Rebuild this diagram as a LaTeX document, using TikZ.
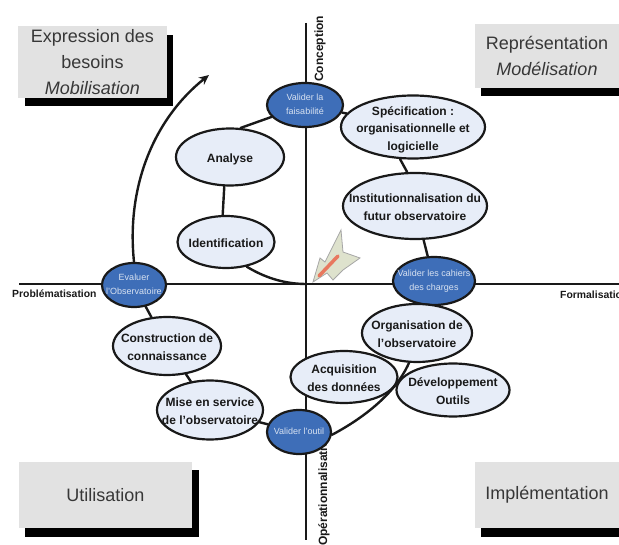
\documentclass[tikz,border=0pt]{standalone}
\usepackage{fontspec}
\setmainfont{Liberation Sans}
\usetikzlibrary{shapes.geometric,arrows.meta}
\definecolor{boxgray}{RGB}{226,226,226}
\definecolor{paleblue}{RGB}{231,237,248}
\definecolor{midblue}{RGB}{62,110,184}
\definecolor{ink}{RGB}{25,25,25}
\definecolor{heading}{RGB}{55,55,55}
\definecolor{markerfill}{RGB}{222,226,205}
\definecolor{markerstripe}{RGB}{232,120,95}
\newcommand{\lbl}[1]{\makebox[0pt]{\smash{\raisebox{-0.25em}{\begin{tabular}{@{}c@{}}#1\end{tabular}}}}}
\newcommand{\lbs}[1]{\makebox[0pt]{\smash{\raisebox{-0.42em}{\begin{tabular}{@{}c@{}}#1\end{tabular}}}}}
\tikzset{
  spiral/.style={line width=2.4pt,draw=ink,line cap=round},
  axis/.style={line width=1.8pt,draw=ink},
  stepell/.style={ellipse,draw=ink,line width=2.2pt,fill=paleblue,inner sep=0pt,
    font=\bfseries\fontsize{12}{17.5}\selectfont,text=ink},
  gate/.style={ellipse,draw=ink,line width=2.2pt,fill=midblue,inner sep=0pt,
    font=\fontsize{9}{14}\selectfont,text=white!80!midblue},
  phase/.style={fill=boxgray,inner sep=0pt,align=center,font=\fontsize{18}{26}\selectfont,text=heading},
  shade/.style={fill=black},
  axlabel/.style={font=\bfseries\fontsize{10.4}{12}\selectfont,text=ink,inner sep=0pt},
  vaxlabel/.style={font=\bfseries\fontsize{12}{14}\selectfont,text=ink,inner sep=0pt,rotate=90,anchor=west}
}
\begin{document}
\begin{tikzpicture}[x=1pt,y=-1pt]
\useasboundingbox (0,0) rectangle (619,545);
% phase boxes
\fill[shade] (25,35) rectangle (173,106);
\node[phase,minimum width=149pt,minimum height=72pt] (expr) at (92.5,62) {Expression des\\besoins\\\textit{Mobilisation}};
\fill[shade] (481,40) rectangle (619,96);
\node[phase,minimum width=144pt,minimum height=64pt] (repr) at (547,56) {Représentation\\\textit{Modélisation}};
\fill[shade] (25,470) rectangle (199,537);
\node[phase,minimum width=173pt,minimum height=66pt] (util) at (105.5,495) {Utilisation};
\fill[shade] (481,470) rectangle (619,537);
\node[phase,minimum width=144pt,minimum height=66pt] (impl) at (547,495) {Implémentation};
% axes
\coordinate (top) at (306,23);
\coordinate (bot) at (306,540);
\coordinate (lft) at (19,284);
\coordinate (rgt) at (619,284);
\coordinate (origin) at (306,284);
\coordinate (gotip) at (209,75);
\draw[axis] (top) -- (bot);
\draw[axis] (lft) -- (rgt);
% axis labels
\node[vaxlabel] (conc) at (320,82) {Conception};
\node[axlabel,anchor=west] (prob) at (12,294) {Problématisation};
\node[axlabel,anchor=west] (form) at (560,295) {Formalisation};
\node[vaxlabel] (oper) at (324,546) {Opérationnalisation};
% ellipses
\node[gate,minimum width=76pt,minimum height=44pt] (fais) at (305,105) {\lbl{Valider la\\faisabilité}};
\node[stepell,minimum width=108pt,minimum height=57pt] (ana) at (230,157) {\lbs{Analyse}};
\node[stepell,minimum width=97pt,minimum height=52pt] (iden) at (226,242) {\lbs{Identification}};
\node[stepell,minimum width=144pt,minimum height=63pt] (spec) at (413,127) {\lbs{Spécification :\\organisationnelle et\\logicielle}};
\node[stepell,minimum width=144pt,minimum height=66pt] (inst) at (415,206) {\lbs{Institutionnalisation du\\futur observatoire}};
\node[gate,minimum width=82pt,minimum height=48pt] (cah) at (434,281) {\lbl{Valider les cahiers\\des charges}};
\node[gate,minimum width=64pt,minimum height=44pt] (eval) at (134,285) {\lbl{Evaluer\\l'Observatoire}};
\node[stepell,minimum width=108pt,minimum height=58pt] (cons) at (167,346) {\lbs{Construction de\\connaissance}};
\node[stepell,minimum width=106pt,minimum height=59pt] (mise) at (210,410) {\lbs{Mise en service\\de l'observatoire}};
\node[gate,minimum width=64pt,minimum height=44pt] (outil) at (299,432) {\lbl{Valider l'outil}};
\node[stepell,minimum width=110pt,minimum height=58pt] (orga) at (417,333) {\lbs{Organisation de\\l'observatoire}};
\node[stepell,minimum width=107pt,minimum height=52pt] (acq) at (344,377) {\lbs{Acquisition\\des données}};
\node[stepell,minimum width=113pt,minimum height=53pt] (dev) at (453,390) {\lbs{Développement\\Outils}};
% connectors
\draw[spiral] (ana.70) -- (fais);
\draw[spiral] (ana.-101) -- (iden.97);
\draw[spiral] (fais) -- (spec);
\draw[spiral] (spec.-112) -- (inst.103);
\draw[spiral] (inst) -- (cah);
\draw[spiral] (eval) -- (cons);
\draw[spiral] (cons) -- (mise);
\draw[spiral] (mise) -- (outil);
\draw[spiral] (iden.-50) .. controls (262,276) and (282,284) .. (origin);
\draw[spiral] (outil.-5) .. controls (360,420) and (395,395) .. (orga.-105);
\draw[line width=2.4pt,draw=ink,-{Stealth[length=10pt,width=9pt]}] (eval.north) .. controls (126,185) and (155,118) .. (gotip);
% marker
\filldraw[fill=markerfill,draw=gray!70,line width=0.8pt] (313,282) -- (320,258) -- (325,262) -- (341,230) -- (343,252) -- (360,258) -- (343,270) -- (333,280) -- (327,273) -- cycle;
\draw[line width=3.5pt,draw=markerstripe,line cap=round] (319,276) -- (338,256);
\end{tikzpicture}
\end{document}
